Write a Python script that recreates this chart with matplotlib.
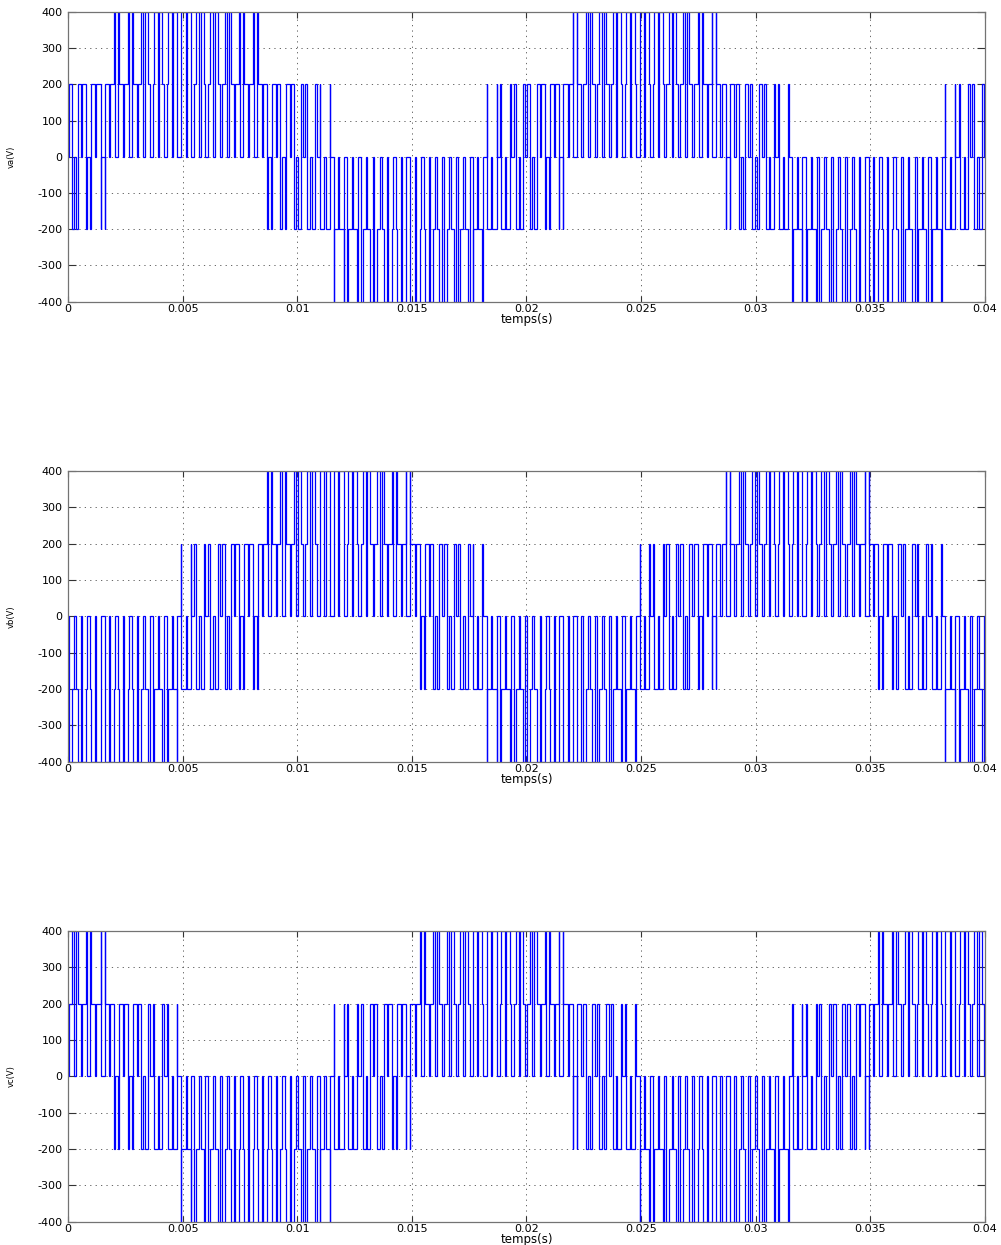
import numpy as np
import matplotlib
matplotlib.use("Agg")
import matplotlib.pyplot as plt

plt.rcParams['font.family'] = ['DejaVu Sans']

# Two-level inverter, sine-triangle PWM
E_DC = 600.0          # DC bus voltage (V)
F_CARRIER = 1650.0    # triangular carrier frequency (Hz)
T_END = 0.04          # simulated time (s)

# Modulating value of each leg, one value per carrier period (66 periods)
ref_a = [0.08, 0.24, 0.39, 0.53, 0.64, 0.74, 0.80, 0.84, 0.85, 0.83, 0.77,
         0.69, 0.59, 0.46, 0.32, 0.16, 0.00, -0.16, -0.32, -0.46, -0.59, -0.69,
         -0.77, -0.83, -0.85, -0.84, -0.80, -0.74, -0.64, -0.53, -0.39, -0.24, -0.08,
         0.08, 0.24, 0.39, 0.53, 0.64, 0.74, 0.80, 0.84, 0.85, 0.83, 0.77,
         0.69, 0.59, 0.46, 0.32, 0.16, 0.00, -0.16, -0.32, -0.46, -0.59, -0.69,
         -0.77, -0.83, -0.85, -0.84, -0.80, -0.74, -0.64, -0.53, -0.39, -0.24, -0.08]
ref_b = [-0.77, -0.83, -0.85, -0.84, -0.80, -0.74, -0.64, -0.53, -0.39, -0.24, -0.08,
         0.08, 0.24, 0.39, 0.53, 0.64, 0.74, 0.80, 0.84, 0.85, 0.83, 0.77,
         0.69, 0.59, 0.46, 0.32, 0.16, 0.00, -0.16, -0.32, -0.46, -0.59, -0.69,
         -0.77, -0.83, -0.85, -0.84, -0.80, -0.74, -0.64, -0.53, -0.39, -0.24, -0.08,
         0.08, 0.24, 0.39, 0.53, 0.64, 0.74, 0.80, 0.84, 0.85, 0.83, 0.77,
         0.69, 0.59, 0.46, 0.32, 0.16, 0.00, -0.16, -0.32, -0.46, -0.59, -0.69]
ref_c = [0.69, 0.59, 0.46, 0.32, 0.16, 0.00, -0.16, -0.32, -0.46, -0.59, -0.69,
         -0.77, -0.83, -0.85, -0.84, -0.80, -0.74, -0.64, -0.53, -0.39, -0.24, -0.08,
         0.08, 0.24, 0.39, 0.53, 0.64, 0.74, 0.80, 0.84, 0.85, 0.83, 0.77,
         0.69, 0.59, 0.46, 0.32, 0.16, 0.00, -0.16, -0.32, -0.46, -0.59, -0.69,
         -0.77, -0.83, -0.85, -0.84, -0.80, -0.74, -0.64, -0.53, -0.39, -0.24, -0.08,
         0.08, 0.24, 0.39, 0.53, 0.64, 0.74, 0.80, 0.84, 0.85, 0.83, 0.77]

x_ticks = [0, 0.005, 0.01, 0.015, 0.02, 0.025, 0.03, 0.035, 0.04]
x_tick_labels = ['0', '0.005', '0.01', '0.015', '0.02', '0.025', '0.03', '0.035', '0.04']
y_ticks = [-400, -300, -200, -100, 0, 100, 200, 300, 400]
y_labels = ['va(V)', 'vb(V)', 'vc(V)']
x_label = 'temps(s)'


def phase_voltages(ra, rb, rc, fc, e_dc):
    """Phase-to-neutral voltages of a two-level inverter driven by a
    symmetric triangular carrier (trough at the start of each period)."""
    tc = 1.0 / fc
    refs = np.array([ra, rb, rc], dtype=float)          # (3, n)
    n = refs.shape[1]
    k = np.arange(n)
    half_on = (1.0 + refs) / 4.0 * tc                   # on-time on each side of the trough
    pts = [k * tc, (k + 1) * tc]
    for leg in range(3):
        pts.append(k * tc + half_on[leg])
        pts.append((k + 1) * tc - half_on[leg])
    bp = np.unique(np.round(np.concatenate(pts), 12))
    mid = 0.5 * (bp[:-1] + bp[1:])
    idx = np.clip(np.floor(mid / tc).astype(int), 0, n - 1)
    tau = mid - idx * tc
    states = []
    for leg in range(3):
        h = half_on[leg][idx]
        states.append(((tau < h) | (tau > tc - h)).astype(float))
    sa, sb, sc = states
    va = e_dc / 3.0 * (2 * sa - sb - sc)
    vb = e_dc / 3.0 * (2 * sb - sa - sc)
    vc = e_dc / 3.0 * (2 * sc - sa - sb)
    return bp, [va, vb, vc]


t, volts = phase_voltages(ref_a, ref_b, ref_c, F_CARRIER, E_DC)

fig = plt.figure(figsize=(10.01, 12.45), dpi=100)
fig.patch.set_facecolor('white')

left, width = 0.0679, 0.9161
bottoms = [0.7578, 0.3882, 0.0187]
heights = [0.2325, 0.2335, 0.2335]

for i in range(3):
    ax = fig.add_axes([left, bottoms[i], width, heights[i]])
    v = volts[i]
    ax.plot(t, np.append(v, v[-1]), drawstyle='steps-post', color='#0000ff',
            lw=0.9, solid_joinstyle='miter')
    ax.set_xlim(0, T_END)
    ax.set_ylim(-400, 400)
    ax.set_xticks(x_ticks)
    ax.set_xticklabels(x_tick_labels)
    ax.set_yticks(y_ticks)
    ax.set_yticklabels([str(y) for y in y_ticks])
    ax.grid(True, color='0.3', linestyle=(0, (1.5, 5)), lw=0.6)
    ax.tick_params(axis='both', direction='in', top=True, right=True,
                   labelsize=8, width=0.8, color='0.2')
    ax.tick_params(axis='y', length=5.5, pad=4)
    ax.tick_params(axis='x', length=4, pad=2)
    for sp in ax.spines.values():
        sp.set_color('0.45')
        sp.set_linewidth(0.9)
    ax.set_xlabel(x_label, fontsize=8.5)
    ax.xaxis.set_label_coords(0.5, -0.038)
    ax.set_ylabel(y_labels[i], fontsize=6)
    ax.yaxis.set_label_coords(-0.057, 0.5)

fig.savefig('out.png', dpi=100, facecolor='white')
